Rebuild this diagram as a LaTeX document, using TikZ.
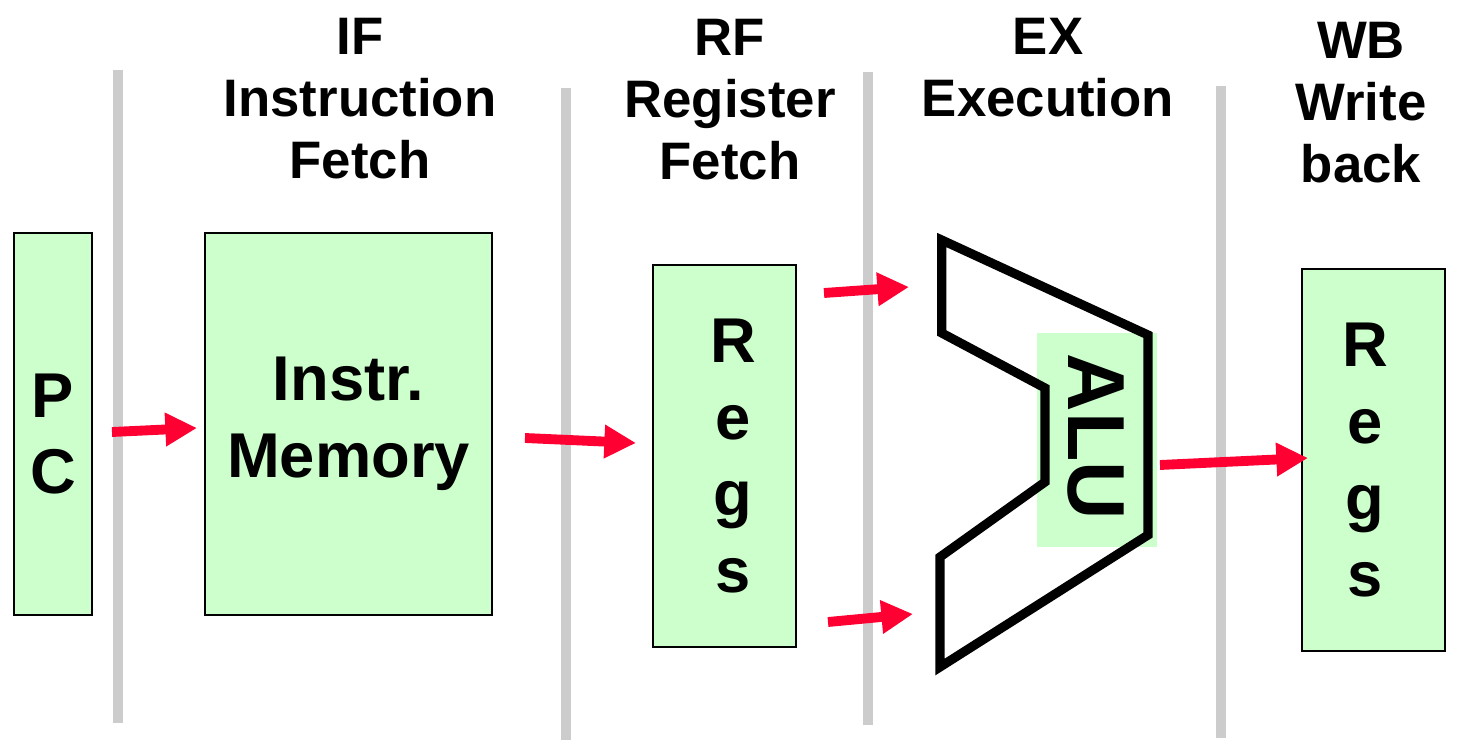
\documentclass[tikz,border=0pt]{standalone}
\usepackage{fontspec}
\setmainfont{Liberation Sans}
\usetikzlibrary{arrows.meta}
\definecolor{boxgreen}{HTML}{CCFFCC}
\definecolor{bargray}{HTML}{CCCCCC}
\definecolor{arrred}{HTML}{FF0033}
\begin{document}
\begin{tikzpicture}[x=0.01cm,y=-0.01cm,
 stage/.style={draw=black,line width=0.7pt,fill=boxgreen,inner sep=0pt,outer sep=0pt},
 boxtext/.style={align=center,font=\fontsize{18}{21.8}\selectfont\bfseries},
 hdr/.style={align=center,font=\fontsize{15}{17.6}\selectfont\bfseries},
 bar/.style={draw=bargray,line width=2.85pt},
 flow/.style={draw=arrred,line width=2.8pt,-{Triangle[length=9pt,width=9pt]}},
 aluline/.style={draw=black,line width=2.6pt,line join=miter}]
\useasboundingbox (0,0) rectangle (1464,749);
% stage separators
\coordinate (b1t) at (118,70);  \coordinate (b1b) at (118,723);
\coordinate (b2t) at (566,88);  \coordinate (b2b) at (566,740);
\coordinate (b3t) at (868,72);  \coordinate (b3b) at (868,725);
\coordinate (b4t) at (1221,86); \coordinate (b4b) at (1221,738);
\draw[bar] (b1t) -- (b1b);
\draw[bar] (b2t) -- (b2b);
\draw[bar] (b3t) -- (b3b);
\draw[bar] (b4t) -- (b4b);
% headers
\node[hdr] (hif) at (360,99) {IF\\Instruction\\Fetch};
\node[hdr] (hrf) at (730,100) {RF\\Register\\Fetch};
\node[hdr] (hex) at (1048,68) {EX\\Execution};
\node[hdr] (hwb) at (1361,103) {WB\\Write\\back};
% boxes
\node[stage,minimum width=0.78cm,minimum height=3.82cm,
  label={[boxtext,name=pct,yshift=-0.1cm]center:P\\C}] (pc) at (53,424) {};
\node[stage,minimum width=2.87cm,minimum height=3.82cm,
  label={[boxtext,name=imemt]center:Instr.\\Memory}] (imem) at (348.5,424) {};
\node[stage,minimum width=1.43cm,minimum height=3.82cm,
  label={[boxtext,name=regs1t,xshift=0.085cm]center:R\\e\\g\\s}] (regs1) at (724.5,456) {};
\node[stage,minimum width=1.43cm,minimum height=3.82cm,
  label={[boxtext,name=regs2t,xshift=-0.085cm]center:R\\e\\g\\s}] (regs2) at (1373.5,460) {};
% ALU
\fill[boxgreen] (1037,333) rectangle (1157,547);
\draw[aluline] (941.7,240) -- (941.7,333) -- (1045,388) -- (1045,482) -- (940,557) -- (940,667) -- (1148,535) -- (1148,335) -- cycle;
\node[rotate=-90,font=\fontsize{23}{23}\selectfont\bfseries] (alu) at (1096,437) {ALU};
% arrows
\coordinate (a1s) at (112,432);  \coordinate (a1e) at (197,428);
\coordinate (a2s) at (525,438);  \coordinate (a2e) at (636,443);
\coordinate (a3s) at (824,293);  \coordinate (a3e) at (909,287);
\coordinate (a4s) at (828,622);  \coordinate (a4e) at (913,614);
\coordinate (a5s) at (1160,465); \coordinate (a5e) at (1308,458);
\draw[flow] (a1s) -- (a1e);
\draw[flow] (a2s) -- (a2e);
\draw[flow] (a3s) -- (a3e);
\draw[flow] (a4s) -- (a4e);
\draw[flow] (a5s) -- (a5e);
\end{tikzpicture}
\end{document}
